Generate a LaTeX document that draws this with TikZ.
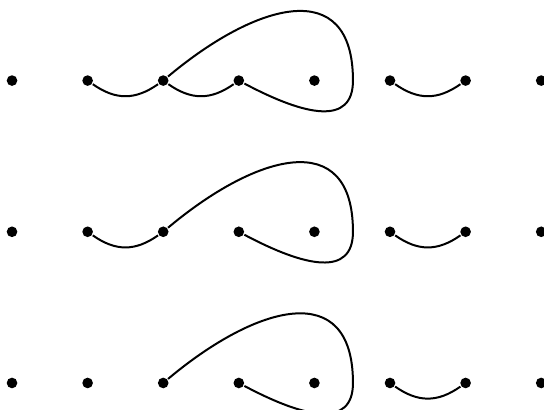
\documentclass[tikz,border=0pt]{standalone}
\usetikzlibrary{calc}

\begin{document}
\begin{tikzpicture}[dot/.style={circle,fill=black,inner sep=0pt,minimum size=4pt},
    every path/.style={line width=.75pt},
    arc/.style={out=-35,in=-145,looseness=1.1}]
  \useasboundingbox (-0.159,-0.357) rectangle (7.037,5.066);
  % three rows of eight points
  \foreach \r/\y in {a/4,b/2,c/0}
    \foreach \i in {1,...,8}
      \node[dot] (\r\i) at (\i-1,\y) {};
  % small arcs
  \draw (a2) to[arc] (a3);
  \draw (a3) to[arc] (a4);
  \draw (a6) to[arc] (a7);
  \draw (b2) to[arc] (b3);
  \draw (b6) to[arc] (b7);
  \draw (c6) to[arc] (c7);
  % the big loops
  \foreach \r in {a,b,c}
    \draw (\r3) .. controls +(40:1.6) and +(0,1.4) .. ($(\r4)+(1.51,0)$)
      .. controls +(0,-0.6) and +(-28:1) .. (\r4);
\end{tikzpicture}
\end{document}
